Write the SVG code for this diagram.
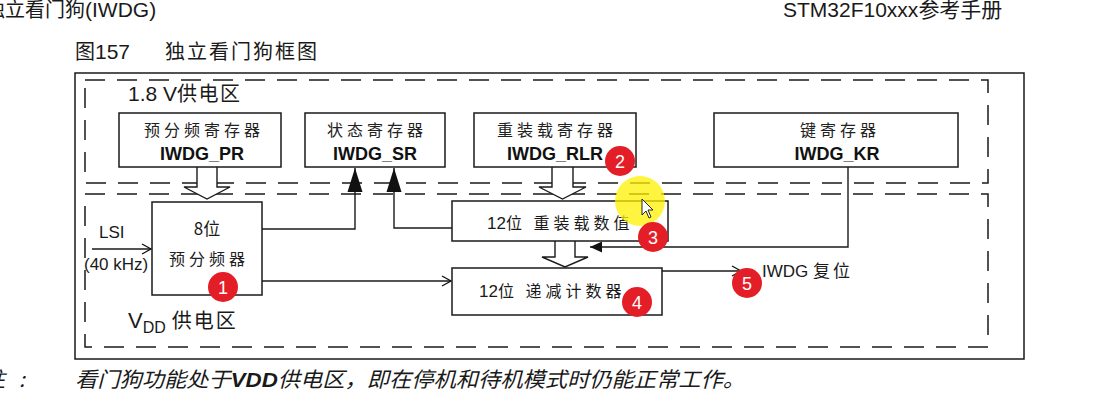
<svg xmlns="http://www.w3.org/2000/svg" width="1118" height="406" viewBox="0 0 1118 406">
<defs>
<style>
.box{fill:#fff;stroke:#1a1a1a;stroke-width:1.5}
.dash{fill:none;stroke:#1a1a1a;stroke-width:1.5;stroke-dasharray:20 12}
.ln{fill:none;stroke:#1a1a1a;stroke-width:1.4}
.hollow{fill:#fff;stroke:#1a1a1a;stroke-width:1.4}
.cn{font-family:"Noto Sans CJK SC","Liberation Sans",sans-serif;fill:#1a1a1a}
.lat{font-family:"Liberation Sans","Noto Sans CJK SC",sans-serif;fill:#1a1a1a}
.reg{font-family:"Noto Sans CJK SC",sans-serif;font-size:16px;letter-spacing:4px;fill:#222;text-anchor:middle}
.bold{font-family:"Liberation Sans",sans-serif;font-size:18px;font-weight:bold;fill:#111;text-anchor:middle}
.badge{fill:#E41E26}
.bnum{font-family:"Liberation Sans",sans-serif;font-size:18px;fill:#fff;text-anchor:middle}
</style>
<marker id="fillArrow" markerUnits="userSpaceOnUse" markerWidth="26" markerHeight="16" refX="24" refY="8" orient="auto">
<path d="M0,0.5 L24,8 L0,15.5 Z" fill="#111"/>
</marker>
<marker id="fillSmall" markerUnits="userSpaceOnUse" markerWidth="14" markerHeight="12" refX="12" refY="6" orient="auto">
<path d="M0,0.5 L12,6 L0,11.5 Z" fill="#111"/>
</marker>
<marker id="openArrow" markerUnits="userSpaceOnUse" markerWidth="12" markerHeight="12" refX="10" refY="6" orient="auto">
<path d="M1,1 L10,6 L1,11" fill="none" stroke="#111" stroke-width="1.3"/>
</marker>
</defs>
<rect width="1118" height="406" fill="#fff"/>

<!-- page header -->
<text class="cn" x="-15" y="17" font-size="20">独立看门狗<tspan class="lat" font-size="21">(IWDG)</tspan></text>
<text class="lat" x="783" y="17" font-size="21">STM32F10xxx<tspan class="cn" font-size="21">参考手册</tspan></text>
<text class="cn" x="75" y="59" font-size="20">图<tspan class="lat" font-size="21">157</tspan></text>
<text class="cn" x="165" y="59" font-size="20" letter-spacing="2">独立看门狗框图</text>

<!-- frames -->
<g id="frame">
<rect x="75" y="73" width="949" height="286" fill="none" stroke="#1a1a1a" stroke-width="1.5"/>
<rect class="dash" x="85" y="80" width="903" height="103"/>
<rect class="dash" x="85" y="194" width="903" height="153"/>
<text class="lat" x="128" y="101" font-size="21">1.8 V<tspan class="cn" font-size="20" letter-spacing="1.5">供电区</tspan></text>
<text class="lat" x="128" y="328" font-size="22">V<tspan font-size="16" dy="5">DD</tspan><tspan class="cn" font-size="20" dy="-5" dx="6" letter-spacing="2">供电区</tspan></text>
</g>

<!-- connectors -->
<g id="connectors">
<path class="ln" d="M262 229 H355 V168" marker-end="url(#fillArrow)"/>
<path class="ln" d="M452 228 H394 V168" marker-end="url(#fillArrow)"/>
<path class="ln" d="M92 249 H151" marker-end="url(#openArrow)"/>
<path class="ln" d="M262 281 H451" marker-end="url(#openArrow)"/>
<path class="ln" d="M662 271 H741" marker-end="url(#openArrow)"/>
<path class="ln" d="M848 167 V247 H590" marker-end="url(#fillSmall)"/>
<polyline class="hollow" points="197,167 197,187 184,187 207,199 230,187 217,187 217,167"/>
<polyline class="hollow" points="552,167 552,187 539,187 562.5,199 586,187 573,187 573,167"/>
<polyline class="hollow" points="555,241 555,257 542,257 565,267 588,257 575,257 575,241"/>
</g>

<!-- nodes -->
<g id="iwdg_pr">
<rect class="box" x="119" y="113" width="162" height="54"/>
<text class="reg" x="204" y="136">预分频寄存器</text>
<text class="bold" x="202" y="160">IWDG_PR</text>
</g>
<g id="iwdg_sr">
<rect class="box" x="305" y="113" width="140" height="54"/>
<text class="reg" x="377" y="136">状态寄存器</text>
<text class="bold" x="375" y="160">IWDG_SR</text>
</g>
<g id="iwdg_rlr">
<rect class="box" x="474" y="113" width="162" height="54"/>
<text class="reg" x="557" y="136">重装载寄存器</text>
<text class="bold" x="555" y="160">IWDG_RLR</text>
</g>
<g id="iwdg_kr">
<rect class="box" x="714" y="113" width="244" height="54"/>
<text class="reg" x="840" y="136">键寄存器</text>
<text class="bold" x="837" y="160">IWDG_KR</text>
</g>
<g id="prescaler">
<rect class="box" x="152" y="202" width="110" height="93"/>
<text class="cn" x="207" y="235" font-size="17" text-anchor="middle">8位</text>
<text class="reg" x="209" y="265">预分频器</text>
</g>
<g id="reload_value">
<rect class="box" x="452" y="201" width="216" height="40"/>
<text class="cn" x="487" y="229" font-size="16" letter-spacing="4"><tspan class="lat" font-size="17" letter-spacing="0">12</tspan>位 重装载数值</text>
</g>
<g id="counter">
<rect class="box" x="452" y="268" width="210" height="47"/>
<text class="cn" x="479" y="297" font-size="16" letter-spacing="4"><tspan class="lat" font-size="17" letter-spacing="0">12</tspan>位 递减计数器</text>
</g>
<g id="lsi">
<text class="lat" x="99" y="238" font-size="17">LSI</text>
<text class="lat" x="84" y="270" font-size="17">(40 kHz)</text>
</g>
<g id="reset">
<text class="lat" x="762" y="277" font-size="17">IWDG <tspan class="cn" letter-spacing="3">复位</tspan></text>
</g>

<!-- note -->
<text class="cn" x="-16" y="387" font-size="21" font-style="italic">注</text>
<text class="cn" x="19" y="387" font-size="21" font-style="italic">:</text>
<text class="cn" x="75" y="387" font-size="21" font-style="italic" textLength="670" lengthAdjust="spacingAndGlyphs">看门狗功能处于<tspan class="lat" font-weight="bold">VDD</tspan>供电区，即在停机和待机模式时仍能正常工作。</text>

<!-- annotations -->
<g id="highlight">
<circle cx="640" cy="201" r="25" fill="#FFF200" opacity="0.75"/>
<path d="M642 199 L642 215 L646 211 L649 218 L651 217 L648 210 L653 210 Z" fill="#fff" stroke="#111" stroke-width="0.9"/>
</g>
<g id="badges">
<circle class="badge" cx="223" cy="287" r="15"/><text class="bnum" x="223" y="293.5">1</text>
<circle class="badge" cx="620" cy="161" r="15"/><text class="bnum" x="620" y="167.5">2</text>
<circle class="badge" cx="653" cy="237" r="15"/><text class="bnum" x="653" y="243.5">3</text>
<circle class="badge" cx="637" cy="302" r="15"/><text class="bnum" x="637" y="308.5">4</text>
<circle class="badge" cx="747" cy="283" r="15"/><text class="bnum" x="747" y="289.5">5</text>
</g>
</svg>
